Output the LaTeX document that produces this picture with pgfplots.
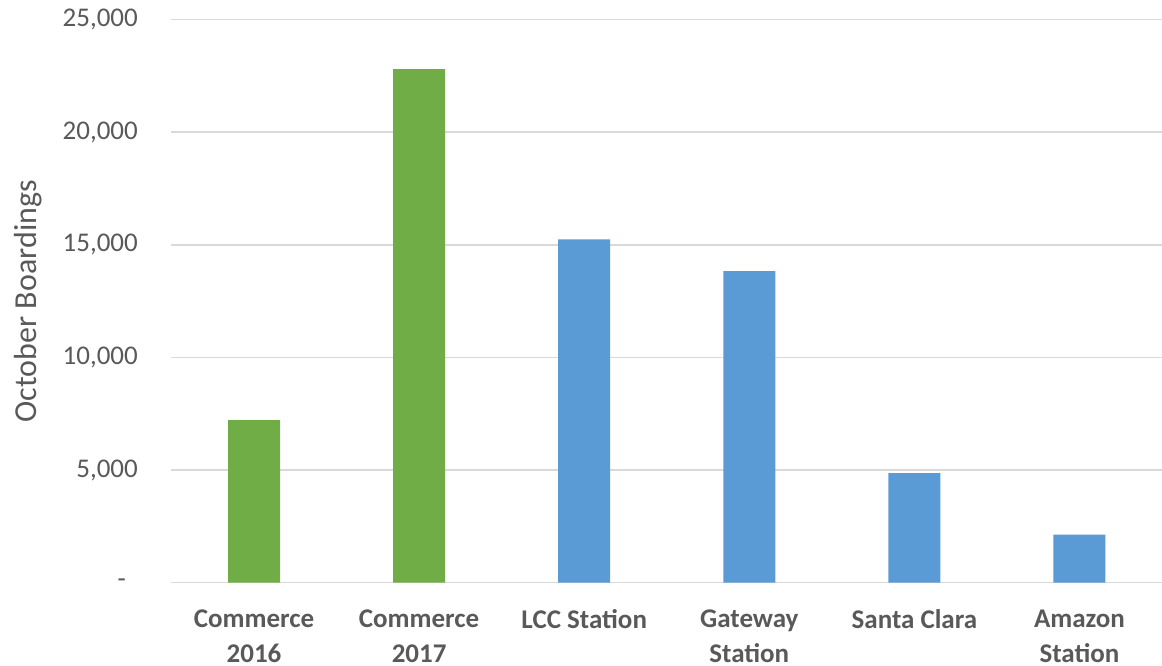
\documentclass[border=0pt]{standalone}
\usepackage{fontspec}
\setmainfont{Carlito}
\usepackage{pgfplots}
\pgfplotsset{compat=1.18}
\definecolor{cgreen}{HTML}{70AD47}
\definecolor{cblue}{HTML}{5B9BD5}
\definecolor{ctext}{HTML}{595959}
\definecolor{cgrid}{HTML}{D9D9D9}
\begin{document}
\begin{tikzpicture}
\path[use as bounding box] (-171.5pt,-83.3pt) rectangle (990.5pt,582.7pt);
\begin{axis}[
  scale only axis, width=990.5pt, height=563pt,
  xmin=-0.5, xmax=5.5, ymin=0, ymax=25000,
  scaled y ticks=false,
  axis line style={draw=none},
  major tick length=0pt,
  ymajorgrids, grid style={draw=cgrid, line width=1.6pt},
  ytick={0,5000,10000,15000,20000,25000},
  yticklabels={{-\kern12pt},{5,000},{10,000},{15,000},{20,000},{25,000}},
  yticklabel style={anchor=east, inner sep=0pt, xshift=-33.5pt, font=\fontsize{27}{33}\selectfont, text=ctext},
  xtick={0,1,2,3,4,5},
  xticklabels={{Commerce\\2016},{Commerce\\2017},{LCC Station},{Gateway\\Station},{Santa Clara},{Amazon\\Station}},
  xticklabel style={align=center, font=\bfseries\fontsize{27}{35}\selectfont, text=ctext, anchor=north, inner sep=0pt, yshift=-27pt},
  ylabel={October Boardings},
  ylabel style={at={(axis description cs:-0.1444,0.5)}, anchor=center, font=\fontsize{32}{38}\selectfont, text=ctext},
]
\addplot[ybar, bar shift=0pt, bar width=52pt, fill=cgreen, draw=none] coordinates {(0,7220) (1,22810)};
\addplot[ybar, bar shift=0pt, bar width=52pt, fill=cblue, draw=none] coordinates {(2,15250) (3,13830) (4,4870) (5,2130)};
\end{axis}
\end{tikzpicture}
\end{document}
